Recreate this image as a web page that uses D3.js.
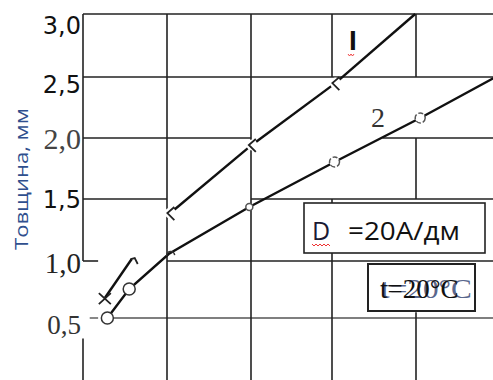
<!DOCTYPE html>
<html>
<head>
<meta charset="utf-8">
<script src="https://cdn.jsdelivr.net/npm/d3@7"></script>
<style>
  html, body { margin: 0; padding: 0; background: #fff; }
  svg { display: block; }
</style>
</head>
<body>
<svg id="chart" width="493" height="380"></svg>
<script>
// ---- data -------------------------------------------------------------
// grid columns along the (unlabelled) horizontal axis
const xGrid = [0, 1, 2, 3, 4];
// thickness ticks, mm
const yTicks = [0.5, 1.0, 1.5, 2.0, 2.5, 3.0];
const yTickLabels = ["0,5", "1,0", "1,5", "2,0", "2,5", "3,0"];

// curve I
const curve1X = [0.26, 0.58, 1.04, 2.01, 3.04, 3.99];
const curve1Y = [0.675, 1.016, 1.387, 1.943, 2.45, 3.0];
const curve1Marks = ["x", "hook", "lt", "lt", "lt", ""];
const curve1Breaks = [1];          // segment after this point is not drawn

// curve 2
const curve2X = [0.29, 0.55, 1.02, 1.98, 3.03, 4.05, 4.92];
const curve2Y = [0.5, 0.754, 1.056, 1.435, 1.803, 2.164, 2.49];
const curve2Marks = ["o", "o", "arc", "o", "o", "o", ""];

// grid segments: horizontal lines (value, x-spans) and verticals (x, value-spans)
const hGridValues = [3.0, 2.5, 2.0, 1.5, 1.0, 0.5];
const hGridSpans = [
  [[0, 5]],
  [[0, 5]],
  [[0, 2], [3.6, 5]],
  [[0, 1], [2, 5]],
  [[0, 0.18], [1, 5]],
  [[0.08, 0.18], [0.36, 5]]
];
const vGridSpans = [
  [[-0.1, 0.32], [1.0, 3.0]],
  [[-0.1, 3.0]],
  [[-0.1, 3.0]],
  [[-0.1, 1.5], [2.5, 3.0]],
  [[-0.1, 0.55], [1.5, 2.0], [2.5, 3.0]]
];

const yTitle = "Товщина, мм";
const curve1Name = "I";
const curve2Name = "2";
const densityLabel = ["D", "=20А/дм"];
const tempLabel = "t=20°C";

// ---- scales -----------------------------------------------------------
const svg = d3.select("#chart");
svg.append("rect").attr("width", 493).attr("height", 380).attr("fill", "#fff");

const x = d3.scaleLinear().domain([0, 1, 2, 3, 4, 5]).range([83, 167, 251, 332, 416, 500]);
const y = d3.scaleLinear().domain([0, 0.5, 1.0, 1.5, 2.0, 2.5, 3.0])
  .range([375, 318, 261, 199, 138, 77, 14]);

// ---- grid -------------------------------------------------------------
const grid = svg.append("g").attr("fill", "none");
hGridValues.forEach((v, i) => {
  hGridSpans[i].forEach(s => {
    grid.append("line")
      .attr("x1", x(s[0])).attr("x2", x(s[1]))
      .attr("y1", y(v)).attr("y2", y(v))
      .attr("stroke", v === 0.5 ? "#555" : "#222")
      .attr("stroke-width", v === 0.5 ? 1.4 : 1.6);
  });
});
xGrid.forEach((u, i) => {
  vGridSpans[i].forEach(s => {
    grid.append("line")
      .attr("x1", x(u)).attr("x2", x(u))
      .attr("y1", y(s[0])).attr("y2", y(s[1]))
      .attr("stroke", "#222").attr("stroke-width", 1.6);
  });
});

// ---- y axis labels ----------------------------------------------------
const tickStyle = [
  { f: "Liberation Serif", s: 27, c: "#333", dy: 15 },
  { f: "Liberation Serif", s: 29, c: "#222", dy: 11 },
  { f: "DejaVu Sans", s: 24, c: "#111", dy: 8 },
  { f: "Liberation Serif", s: 30, c: "#444", dy: 10 },
  { f: "DejaVu Sans", s: 24, c: "#111", dy: 15 },
  { f: "DejaVu Sans", s: 24, c: "#111", dy: 19 }
];
const axis = d3.axisLeft(y).tickValues(yTicks)
  .tickFormat((d, i) => yTickLabels[i]).tickSize(0).tickPadding(2);
const ag = svg.append("g").attr("transform", "translate(83,0)").call(axis);
ag.select(".domain").remove();
ag.selectAll(".tick text").each(function (d, i) {
  const s = tickStyle[i];
  d3.select(this)
    .attr("font-family", s.f).attr("font-size", s.s)
    .attr("fill", s.c).attr("dy", s.dy).attr("x", -2);
});

svg.append("text")
  .attr("transform", "translate(28,179) rotate(-90)")
  .attr("text-anchor", "middle")
  .attr("font-family", "Open Sans").attr("font-size", 18)
  .attr("fill", "#2f4f8e")
  .attr("textLength", 142).attr("lengthAdjust", "spacingAndGlyphs")
  .text(yTitle);

// ---- curves -----------------------------------------------------------
const pts1 = curve1X.map((u, i) => [x(u), y(curve1Y[i])]);
const pts2 = curve2X.map((u, i) => [x(u), y(curve2Y[i])]);
const line = d3.line();

const c1 = svg.append("g");
for (let i = 0; i < pts1.length - 1; i++) {
  if (curve1Breaks.includes(i)) continue;
  c1.append("path").attr("d", line([pts1[i], pts1[i + 1]]))
    .attr("fill", "none").attr("stroke", "#111").attr("stroke-width", 2.4);
}
const c2 = svg.append("g");
c2.append("path").attr("d", line(pts2))
  .attr("fill", "none").attr("stroke", "#111").attr("stroke-width", 2.4);

// markers of curve I
pts1.forEach((p, i) => {
  const m = curve1Marks[i];
  const g = svg.append("g").attr("transform", `translate(${p[0]},${p[1]})`)
    .attr("fill", "none").attr("stroke", "#222").attr("stroke-width", 1.8);
  if (m === "x") {
    g.append("path").attr("d", "M-6,-5L6,6M-6,6L6,-5");
  } else if (m === "hook") {
    g.append("path").attr("d", "M-1,0L3,-1L6,5");
  } else if (m === "lt") {
    g.append("circle").attr("r", 5.5).attr("fill", "#fff").attr("stroke", "none");
    g.append("path").attr("d", "M4,-6L-3,0L4,7");
  }
});
// markers of curve 2
pts2.forEach((p, i) => {
  const m = curve2Marks[i];
  if (m === "arc") {
    svg.append("path")
      .attr("transform", `translate(${p[0]},${p[1]})`)
      .attr("d", "M-2,2A4,4 0 0 1 6,1")
      .attr("fill", "none").attr("stroke", "#333").attr("stroke-width", 1.5);
    return;
  }
  if (m !== "o") return;
  const r = i < 2 ? 6 : (i === 3 ? 3.5 : 5);
  svg.append("circle").attr("cx", p[0]).attr("cy", p[1]).attr("r", r)
    .attr("fill", "#fff").attr("stroke", i < 2 ? "#333" : "#555")
    .attr("stroke-width", 1.5)
    .attr("stroke-dasharray", i >= 4 ? "5,2" : null);
});

// curve names
svg.append("text").attr("x", 349).attr("y", 50)
  .attr("font-family", "Liberation Sans").attr("font-weight", "bold")
  .attr("font-size", 28).attr("fill", "#111").text(curve1Name);
svg.append("path").attr("d", "M348,54l1.5,2l1.5,-2l1.5,2l1.5,-2")
  .attr("fill", "none").attr("stroke", "#e33").attr("stroke-width", 0.9);
svg.append("text").attr("x", 371).attr("y", 127)
  .attr("font-family", "Liberation Serif").attr("font-size", 28)
  .attr("fill", "#333").text(curve2Name);

// ---- condition boxes ---------------------------------------------------
svg.append("rect").attr("x", 304).attr("y", 203).attr("width", 181).attr("height", 50)
  .attr("fill", "#fff").attr("stroke", "#222").attr("stroke-width", 1.6);
svg.append("text").attr("x", 312).attr("y", 240)
  .attr("font-family", "Open Sans").attr("font-size", 25)
  .attr("fill", "#1a1a33").text(densityLabel[0]);
svg.append("path").attr("d", "M312,244l2,2l2,-2l2,2l2,-2l2,2l2,-2l2,2l2,-2l2,2")
  .attr("fill", "none").attr("stroke", "#e33").attr("stroke-width", 1);
svg.append("text").attr("x", 348).attr("y", 240)
  .attr("font-family", "Open Sans").attr("font-size", 25)
  .attr("textLength", 112).attr("lengthAdjust", "spacingAndGlyphs")
  .attr("fill", "#111").text(densityLabel[1]);

svg.append("rect").attr("x", 368).attr("y", 264).attr("width", 107).attr("height", 47)
  .attr("fill", "#fff").attr("stroke", "#222").attr("stroke-width", 2);
svg.append("text").attr("x", 381).attr("y", 298)
  .attr("font-family", "Liberation Serif").attr("font-size", 27)
  .attr("textLength", 91).attr("lengthAdjust", "spacingAndGlyphs")
  .attr("fill", "#3d4d7a").attr("opacity", 0.85).text(tempLabel);
svg.append("text").attr("x", 380).attr("y", 298)
  .attr("font-family", "Liberation Serif").attr("font-size", 27)
  .attr("fill", "#111").text(tempLabel);
</script>
</body>
</html>
